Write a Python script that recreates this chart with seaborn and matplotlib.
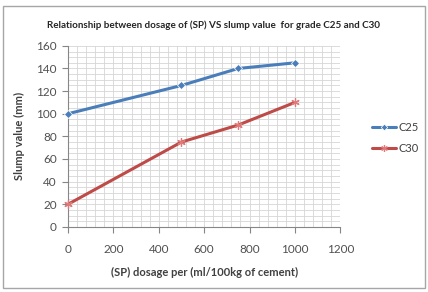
import numpy as np
import matplotlib.pyplot as plt
import pandas as pd
import seaborn as sns
from matplotlib.ticker import MultipleLocator

sns.set_style('white')
plt.rcParams['font.family'] = ['Lato', 'DejaVu Sans']

dosage = [0, 500, 750, 1000]
c25 = [100, 125, 140, 145]
c30 = [20, 75, 90, 110]

fig = plt.figure(figsize=(4.28, 2.92), dpi=100)
# outer chart frame
fig.patches.append(plt.Rectangle((0.008, 0.012), 0.984, 0.968, transform=fig.transFigure,
                                 fill=False, edgecolor='#a6a6a6', linewidth=1.0))
ax = fig.add_axes([0.159, 0.223, 0.636, 0.620])

sns.lineplot(x=dosage, y=c25, color='#4a7ebb', marker='D', linewidth=2.2,
             markersize=4.2, markeredgewidth=0.5, label='C25', ax=ax, clip_on=False, zorder=3)
sns.lineplot(x=dosage, y=c30, color='#be4b48', marker=(6, 2, 0), linewidth=2.2,
             markersize=6, markeredgewidth=0.9, markeredgecolor='#e07a7a',
             label='C30', ax=ax, clip_on=False, zorder=3)

ax.set_xlim(0, 1200)
ax.set_ylim(0, 160)
ax.xaxis.set_major_locator(MultipleLocator(200))
ax.xaxis.set_minor_locator(MultipleLocator(40))
ax.yaxis.set_major_locator(MultipleLocator(20))
ax.yaxis.set_minor_locator(MultipleLocator(5))
ax.grid(which='both', color='#d6d6d6', linewidth=0.6)
ax.set_axisbelow(True)
for s in ['top', 'right']:
    ax.spines[s].set_visible(False)
for s in ['left', 'bottom']:
    ax.spines[s].set_color('#868686')
    ax.spines[s].set_linewidth(0.8)
ax.tick_params(which='major', length=4, color='#868686', labelsize=8.5,
               labelcolor='#505050', pad=4, left=True, bottom=True)
ax.tick_params(which='minor', length=0)
ax.tick_params(axis='x', pad=8)

ax.set_xlabel('(SP) dosage per (ml/100kg of cement)', fontsize=8, fontweight='bold',
              color='#404040', labelpad=9)
ax.set_ylabel('Slump value (mm)', fontsize=8, fontweight='bold', color='#404040', labelpad=8)
fig.text(0.498, 0.912, 'Relationship between dosage of (SP) VS slump value  for grade C25 and C30',
         ha='center', va='center', fontsize=7.1, fontweight='bold', color='#262626')

leg = ax.legend(loc='center left', bbox_to_anchor=(1.08, 0.49), frameon=False,
                fontsize=8, handlelength=2.2, handletextpad=0.2, labelspacing=0.9,
                markerscale=0.8)
for t in leg.get_texts():
    t.set_color('#404040')

fig.savefig('out.png', dpi=100)
